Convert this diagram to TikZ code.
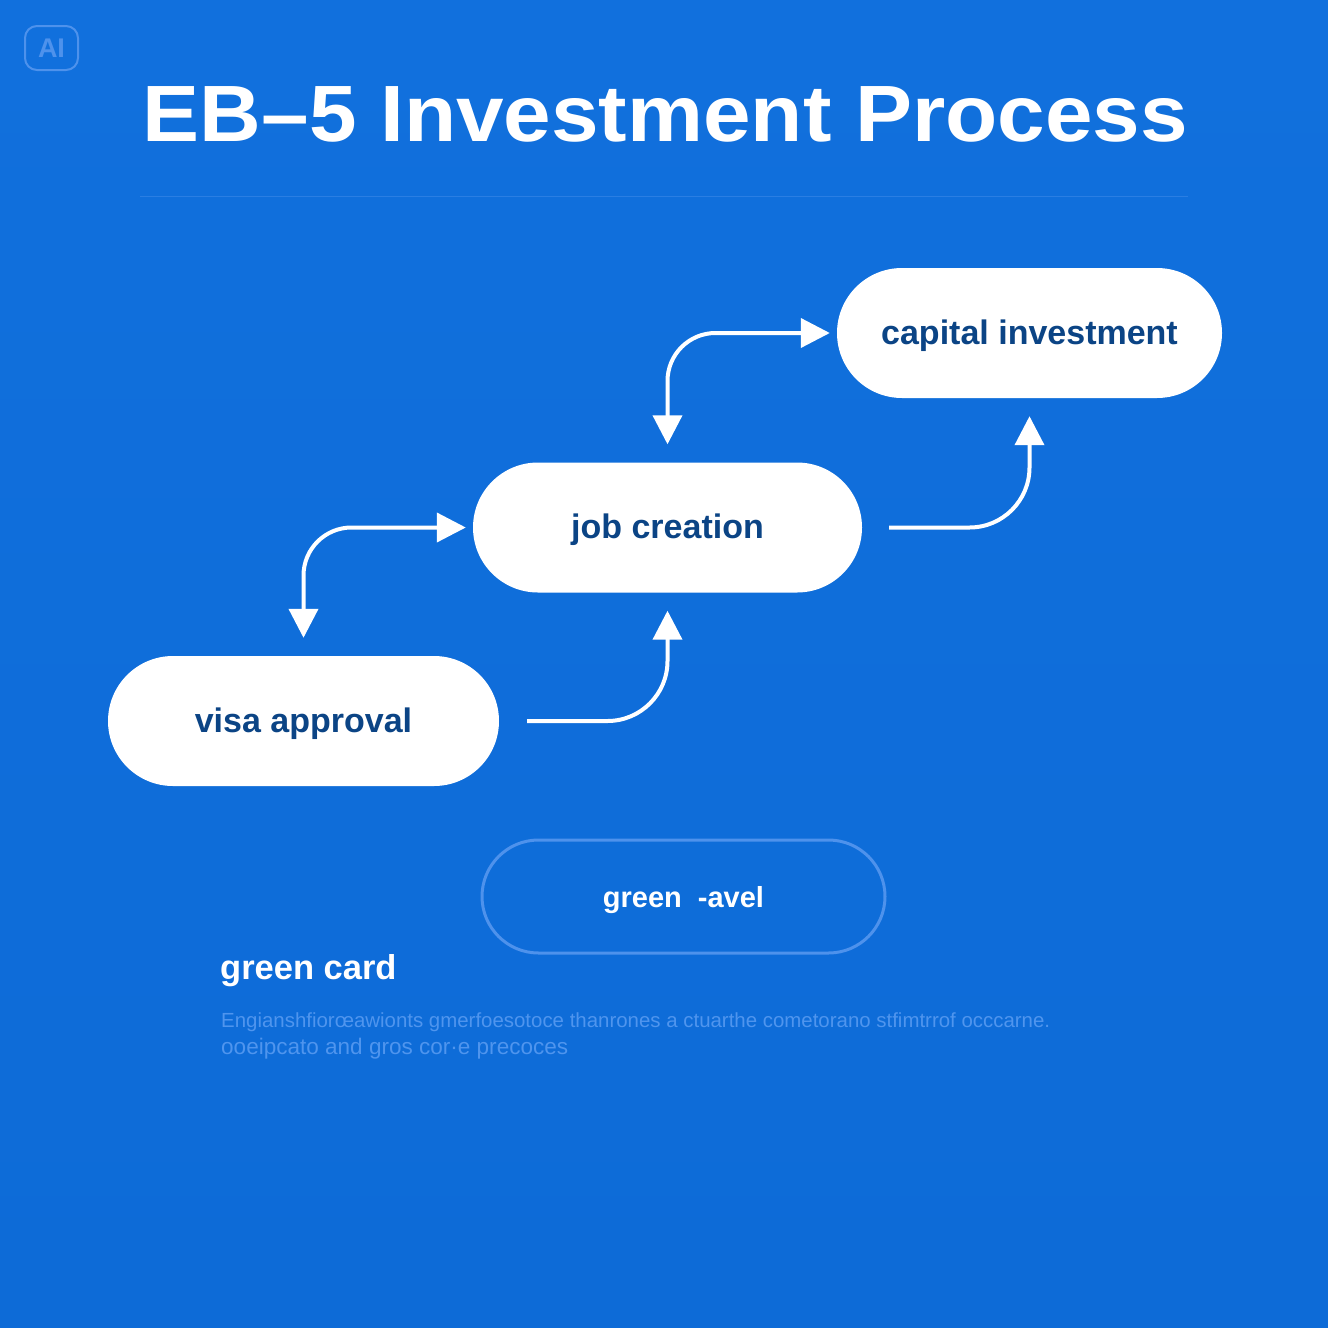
\documentclass[tikz,border=0pt]{standalone}
\usepackage{fontspec}
\setmainfont{Liberation Sans}
\newfontfamily\titlefont[FakeStretch=1.07]{Liberation Sans}
\usetikzlibrary{shapes.misc,arrows.meta}
\definecolor{bgtop}{HTML}{1170DD}
\definecolor{bgbot}{HTML}{0D6BD7}
\definecolor{faint}{HTML}{4E92EC}
\definecolor{rulec}{HTML}{2A7EE3}
\definecolor{navy}{HTML}{0B4485}
\definecolor{para}{HTML}{4F95EE}
\tikzset{
  pill/.style={rounded rectangle,rounded rectangle arc length=180,fill=white,draw=none,minimum height=130pt,inner sep=0pt,text=navy,text height=26pt,text depth=4pt,font=\fontsize{34}{36}\selectfont\bfseries},
  flow/.style={draw=white,line width=4pt,-{Triangle[length=29pt,width=29pt]}},
  both/.style={draw=white,line width=4pt,{Triangle[length=29pt,width=29pt]}-{Triangle[length=29pt,width=29pt]}},
}
\begin{document}
\begin{tikzpicture}[x=1pt,y=-1pt]
\shade[top color=bgtop,bottom color=bgbot] (0,0) rectangle (1328,1328);
\useasboundingbox (0,0) rectangle (1328,1328);
% badge
\node[draw=faint,line width=2pt,rounded corners=12pt,minimum width=53pt,minimum height=44pt,inner sep=0pt,text=faint,font=\fontsize{27}{30}\selectfont\bfseries] (badge) at (51.5,48) {AI};
% title
\node[text=white,inner sep=0pt,anchor=base] (title) at (665.5,141) {\resizebox{1045pt}{!}{\titlefont\fontsize{88}{96}\selectfont\bfseries EB–5 Investment Process}};
\coordinate (ruleL) at (140,196);
\coordinate (ruleR) at (1188,196);
\draw[rulec,line width=1pt] (ruleL) -- (ruleR);
% process nodes
\node[pill,minimum width=385pt] (capital) at (1029.5,333) {capital investment};
\node[pill,minimum width=389pt] (job) at (667.5,527.5) {job creation};
\node[pill,minimum width=391pt] (visa) at (303.5,721) {visa approval};
% connectors
\draw[both,rounded corners=48pt,shorten <=7pt,shorten >=18pt] (capital.west) -| (job.north);
\draw[both,rounded corners=48pt,shorten <=7pt,shorten >=18pt] (job.west) -| (visa.north);
\draw[flow,rounded corners=60pt,shorten <=27pt,shorten >=18pt] (job.east) -| (capital.south);
\draw[flow,rounded corners=60pt,shorten <=28pt,shorten >=18pt] (visa.east) -| (job.south);
% outlined pill
\node[rounded rectangle,rounded rectangle arc length=180,draw=faint,line width=3pt,minimum width=403pt,minimum height=113pt,inner sep=0pt,text=white,text height=25pt,text depth=4pt,font=\fontsize{29}{31}\selectfont\bfseries] (level) at (683.5,896.5) {green\hspace{16pt}-avel};
% lower text
\node[anchor=base west,inner sep=0pt,text=white,font=\fontsize{34.5}{36}\selectfont\bfseries] (card) at (220,979) {green card};
\node[anchor=base west,inner sep=0pt,text=para] (line1) at (221,1027) {\resizebox{829pt}{!}{\fontsize{21}{24}\selectfont Engianshfiorœawionts gmerfoesotoce thanrones a ctuarthe cometorano stfimtrrof occcarne.}};
\node[anchor=base west,inner sep=0pt,text=para] (line2) at (221,1054) {\resizebox{347pt}{!}{\fontsize{21}{24}\selectfont ooeipcato and gros cor·e precoces}};
\end{tikzpicture}
\end{document}
